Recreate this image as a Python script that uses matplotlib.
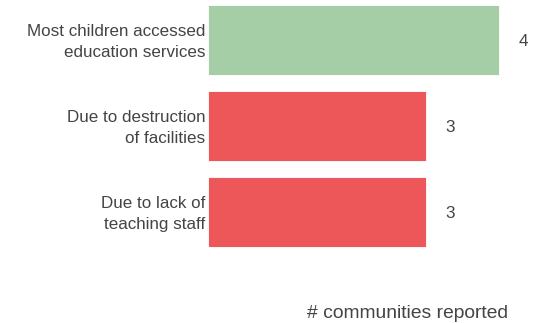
import matplotlib
matplotlib.use("Agg")
import matplotlib.pyplot as plt
from matplotlib.transforms import ScaledTranslation

# data
categories = ["Most children accessed\neducation services",
              "Due to destruction\nof facilities",
              "Due to lack of\nteaching staff"]
values = [4, 3, 3]
colors = ["#a5cda6", "#ed5759"]
bar_colors = [colors[0], colors[1], colors[1]]
xlabel = "# communities reported"

plt.rcParams["font.family"] = ["Liberation Sans", "DejaVu Sans"]
TXT = "#444444"

fig = plt.figure(figsize=(5.4, 3.23), dpi=100)
# axes placed in pixel terms: left edge of bars at x=208
ax = fig.add_axes([208 / 540, 1 - 290 / 323, 332 / 540, 290 / 323])

y = list(range(len(categories)))
ax.barh(y, values, height=0.81, color=bar_colors, edgecolor="white", linewidth=0.6)

for yi, v in zip(y, values):
    ax.annotate(str(v), xy=(v, yi), xytext=(24 * 72 / 100, -2 * 72 / 100), textcoords="offset points",
                ha="center", va="center", fontsize=12.3, color=TXT)

ax.set_xlim(0, 332 / 72.75)
ax.set_ylim(2.907, -0.465)
ax.set_yticks(y)
ax.set_yticklabels(categories, fontsize=12.25, color=TXT, linespacing=1.42)
ax.tick_params(axis="y", length=0, pad=2)
# nudge the category labels up a couple of pixels
for lab in ax.get_yticklabels():
    lab.set_transform(lab.get_transform() + ScaledTranslation(0, 2 / 100, fig.dpi_scale_trans))
ax.set_xticks([])
for s in ax.spines.values():
    s.set_visible(False)

fig.text(508 / 540, 1 - 313 / 323, xlabel, ha="right", va="center", fontsize=13.9, color=TXT)

fig.savefig("out.png", dpi=100)
